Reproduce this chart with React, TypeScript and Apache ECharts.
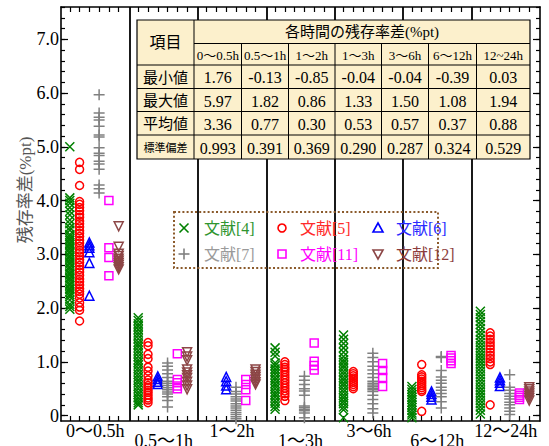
import React, { useEffect, useRef } from 'react';
import * as echarts from 'echarts';

const FONT = "'Liberation Serif', 'Times New Roman', 'Noto Sans CJK JP', serif";

const groupLabels = ['0～0.5h', '0.5～1h', '1～2h', '1～3h', '3～6h', '6～12h', '12～24h'];
const seriesNames = ['文献[4]', '文献[5]', '文献[6]', '文献[7]', '文献[11]', '文献[12]'];
const yTickLabels = [0, 1, 2, 3, 4, 5, 6, 7];

// values per time group (0~0.5h, 0.5~1h, 1~2h, 1~3h, 3~6h, 6~12h, 12~24h)
const ref4: number[][] = [
  [5.0, 4.05, 4.0, 3.95, 3.87, 3.8, 3.73, 3.64, 3.57, 3.5, 3.45, 3.37, 3.33, 3.29, 3.26, 3.21, 3.18, 3.13, 3.1, 3.05, 3.02, 2.97, 2.94, 2.9, 2.85, 2.82, 2.77, 2.74, 2.7, 2.65, 2.62, 2.57, 2.54, 2.5, 2.45, 2.42, 2.37, 2.34, 2.3, 2.25, 2.21, 2.15, 2.07, 2.03, 1.98],
  [1.82, 1.77, 1.71, 1.66, 1.6, 1.54, 1.49, 1.43, 1.37, 1.32, 1.27, 1.21, 1.16, 1.1, 1.04, 0.99, 0.94, 0.88, 0.83, 0.77, 0.72, 0.66, 0.61, 0.55, 0.5, 0.44, 0.39, 0.33, 0.28, 0.24, 0.2],
  [],
  [1.26, 1.18, 1.11, 0.98, 0.93, 0.87, 0.82, 0.77, 0.71, 0.66, 0.6, 0.55, 0.5, 0.44, 0.39, 0.34, 0.28, 0.23, 0.17, 0.12],
  [1.5, 1.42, 1.34, 1.26, 1.18, 1.1, 1.04, 0.99, 0.93, 0.88, 0.82, 0.77, 0.71, 0.66, 0.6, 0.55, 0.49, 0.44, 0.38, 0.33, 0.27, 0.22, 0.16, 0.11, -0.04],
  [0.54, 0.49, 0.44, 0.39, 0.34, 0.3, 0.25, 0.2, 0.15, 0.1, 0.05, 0.01, -0.04, -0.39],
  [1.94, 1.88, 1.82, 1.75, 1.69, 1.62, 1.55, 1.49, 1.42, 1.36, 1.3, 1.24, 1.18, 1.12, 1.06, 1.0, 0.94, 0.88, 0.82, 0.76, 0.7, 0.64, 0.58, 0.52, 0.46, 0.4, 0.34, 0.28, 0.22, 0.16, 0.1, 0.03],
];
const ref5: number[][] = [
  [4.71, 4.58, 4.28, 3.98, 3.93, 3.87, 3.81, 3.74, 3.69, 3.62, 3.57, 3.51, 3.44, 3.39, 3.33, 3.26, 3.21, 3.15, 3.08, 3.03, 2.97, 2.9, 2.85, 2.79, 2.72, 2.67, 2.61, 2.54, 2.49, 2.43, 2.36, 2.31, 2.26, 2.19, 2.1, 2.02, 1.96, 1.76],
  [1.36, 1.3, 1.14, 1.06, 0.9, 0.83, 0.74, 0.66, 0.61, 0.56, 0.52, 0.47, 0.43, 0.38, 0.33, 0.29, 0.24],
  [],
  [1.0, 0.95, 0.9, 0.86, 0.81, 0.76, 0.71, 0.66, 0.61, 0.56, 0.51, 0.46, 0.41, 0.36, 0.28],
  [0.82, 0.78, 0.74, 0.7, 0.66, 0.62, 0.58, 0.54, 0.5],
  [0.95, 0.76, 0.72, 0.68, 0.64, 0.6, 0.56, 0.52, 0.48, 0.45, 0.08],
  [1.54, 1.48, 1.42, 1.36, 1.3, 1.24, 1.18, 1.12, 1.06, 1.0, 0.95, 0.2],
];
const ref6: number[][] = [
  [3.22, 3.17, 3.12, 3.04, 2.84, 2.23],
  [0.73, 0.68, 0.63, 0.59],
  [0.72, 0.64, 0.56, 0.49],
  [],
  [],
  [0.45, 0.4, 0.35, 0.3],
  [0.71, 0.66, 0.61, 0.55],
];
const ref7: number[][] = [
  [5.97, 5.63, 5.55, 5.5, 5.38, 5.22, 5.18, 4.98, 4.88, 4.84, 4.73, 4.68, 4.58, 4.29, 4.22, 4.14],
  [0.98, 0.92, 0.85, 0.78, 0.71, 0.64, 0.6, 0.56, 0.52, 0.48, 0.44, 0.4, 0.35, 0.28, 0.16],
  [0.53, 0.45, 0.4, 0.35, 0.31, 0.27, 0.22, 0.18, 0.14, 0.1, 0.06, 0.02, -0.02, -0.06, -0.3, -0.85],
  [0.73, 0.66, 0.58, 0.5, 0.46, 0.38, 0.18, 0.15, 0.12, 0.09, 0.05, -0.04],
  [1.16, 1.08, 1.0, 0.92, 0.85, 0.78, 0.71, 0.64, 0.6, 0.57, 0.54, 0.51, 0.48, 0.45, 0.38, 0.3, 0.22, 0.13, 0.05],
  [1.1, 1.08, 0.84, 0.72, 0.66, 0.6, 0.53, 0.47, 0.41, 0.35, 0.26, 0.14],
  [0.76, 0.53, 0.47, 0.41, 0.36, 0.31, 0.25, 0.2, 0.14, 0.08, 0.02],
];
const ref11: number[][] = [
  [4.0, 3.12, 2.94, 2.6],
  [1.15, 0.67, 0.61, 0.55, 0.5],
  [0.67, 0.58, 0.48, 0.28],
  [1.35, 1.01, 0.93, 0.85],
  [0.97, 0.84, 0.71, 0.54],
  [1.12, 1.07, 1.02, 0.97],
  [0.42, 0.38, 0.34, 0.3],
];
const ref12: number[][] = [
  [3.52, 3.14, 3.01, 2.97, 2.92, 2.88, 2.84, 2.8, 2.76, 2.72],
  [1.18, 1.1, 1.03, 0.86, 0.8, 0.75, 0.7, 0.63, 0.56, 0.49],
  [0.86, 0.81, 0.76, 0.72, 0.67, 0.62, 0.58],
  [],
  [],
  [],
  [0.53, 0.49, 0.45, 0.41, 0.37, 0.33, 0.28],
];

// table contents
const tableHeader = '各時間の残存率差(%pt)';
const tableCols = ['0～0.5h', '0.5～1h', '1～2h', '1～3h', '3～6h', '6～12h', '12~24h'];
const tableRowNames = ['最小値', '最大値', '平均値', '標準偏差'];
const minVals = ['1.76', '-0.13', '-0.85', '-0.04', '-0.04', '-0.39', '0.03'];
const maxVals = ['5.97', '1.82', '0.86', '1.33', '1.50', '1.08', '1.94'];
const meanVals = ['3.36', '0.77', '0.30', '0.53', '0.57', '0.37', '0.88'];
const sdVals = ['0.993', '0.391', '0.369', '0.290', '0.287', '0.324', '0.529'];

const allRefs = [ref4, ref5, ref6, ref7, ref11, ref12];
const markerStyles = [
  { symbol: 'path://M0,0L10,10M10,0L0,10', size: 9, color: '#008000', text: '#2f952f' },
  { symbol: 'circle', size: 8, color: '#ff0000', text: '#ff2a2a' },
  { symbol: 'triangle', size: 9, color: '#0000ff', text: '#2a2aff' },
  { symbol: 'path://M5,0L5,10M0,5L10,5', size: 11, color: '#808080', text: '#9a9a9a' },
  { symbol: 'rect', size: 8, color: '#ff00ff', text: '#ff00ff' },
  { symbol: 'path://M0,0L10,0L5,8.66Z', size: 9, color: '#8c4646', text: '#8c3c3c' },
];

const slotPos = (g: number, k: number) => g + (k + 0.9) / 7;

function buildOption() {
  const tickPos: number[] = [];
  for (let g = 0; g < 7; g++) for (let k = 0; k < 6; k++) tickPos.push(slotPos(g, k));
  const labelPos = groupLabels.map((_, i) => i + 0.5);
  const minorTicks: number[] = [];
  for (let i = 0; i <= 38; i++) minorTicks.push(Math.round(i * 2) / 10);

  const series: any[] = allRefs.map((ref, k) => {
    const st = markerStyles[k];
    const data: number[][] = [];
    ref.forEach((vals, g) => vals.forEach((v) => data.push([slotPos(g, k), v])));
    const s: any = {
      name: seriesNames[k],
      type: 'scatter',
      xAxisIndex: 0,
      yAxisIndex: 0,
      symbol: st.symbol,
      symbolSize: st.size,
      itemStyle: { color: 'rgba(0,0,0,0)', borderColor: st.color, borderWidth: 1.5, opacity: 1 },
      data,
      silent: true,
      z: 3,
    };
    if (k === 0) {
      s.markLine = {
        silent: true,
        symbol: ['none', 'none'],
        label: { show: false },
        lineStyle: { color: '#000', width: 1.8, type: 'solid' },
        data: [1, 2, 3, 4, 5, 6].map((v) => ({ xAxis: v })),
      };
    }
    return s;
  });

  const axisLine = { show: true, onZero: false, lineStyle: { color: '#000', width: 1.6 } };

  const graphics: any[] = [];
  // y axis title
  graphics.push({
    type: 'text', x: 25, y: 190, rotation: Math.PI / 2, z: 50,
    style: { text: '残存率差(%pt)', fill: '#555', fontSize: 17, fontFamily: FONT, align: 'center', verticalAlign: 'middle' },
  });

  // table
  const tx = [137, 194, 241.5, 288.5, 335, 381.5, 428.5, 476.5, 530];
  const ty = [20, 43.5, 65, 88.5, 111.5, 135, 159];
  graphics.push({
    type: 'rect', z: 50,
    shape: { x: tx[0], y: ty[0], width: tx[8] - tx[0], height: ty[6] - ty[0] },
    style: { fill: '#fcf0cc', stroke: '#000', lineWidth: 1.2 },
  });
  const hline = (x1: number, x2: number, y: number) =>
    graphics.push({ type: 'line', z: 51, shape: { x1, y1: y, x2, y2: y }, style: { stroke: '#000', lineWidth: 1 } });
  const vline = (x: number, y1: number, y2: number) =>
    graphics.push({ type: 'line', z: 51, shape: { x1: x, y1, x2: x, y2 }, style: { stroke: '#000', lineWidth: 1 } });
  hline(tx[1], tx[8], ty[1]);
  for (let r = 2; r <= 5; r++) hline(tx[0], tx[8], ty[r]);
  vline(tx[1], ty[0], ty[6]);
  for (let c = 2; c <= 7; c++) vline(tx[c], ty[1], ty[6]);
  const cellText = (text: string, cx: number, cy: number, size: number) =>
    graphics.push({
      type: 'text', z: 52, x: cx, y: cy,
      style: { text, fill: '#000', fontSize: size, fontFamily: FONT, align: 'center', verticalAlign: 'middle' },
    });
  cellText('項目', (tx[0] + tx[1]) / 2, (ty[0] + ty[2]) / 2, 16);
  cellText(tableHeader, (tx[1] + tx[8]) / 2, (ty[0] + ty[1]) / 2, 15);
  tableCols.forEach((c, i) => cellText(c, (tx[i + 1] + tx[i + 2]) / 2, (ty[1] + ty[2]) / 2 + 1, 13));
  const rowsVals = [minVals, maxVals, meanVals, sdVals];
  tableRowNames.forEach((name, r) => {
    const cy = (ty[r + 2] + ty[r + 3]) / 2 + 1;
    cellText(name, (tx[0] + tx[1]) / 2, cy, r === 3 ? 11 : 15);
    rowsVals[r].forEach((v, i) => cellText(v, (tx[i + 1] + tx[i + 2]) / 2, cy, 16));
  });

  // legend box
  graphics.push({
    type: 'rect', z: 50,
    shape: { x: 174, y: 212, width: 264, height: 56 },
    style: { fill: 'none', stroke: '#8b5a2b', lineWidth: 2, lineDash: [2, 2.2] },
  });
  const iconX = [184, 282, 378];
  const textX = [204, 300, 396];
  const rowY = [228, 254];
  seriesNames.forEach((name, k) => {
    const col = k % 3;
    const row = Math.floor(k / 3);
    const cx = iconX[col];
    const cy = rowY[row];
    const st = markerStyles[k];
    const stroke = { stroke: st.color, lineWidth: 1.6, fill: 'none' };
    if (k === 0) {
      graphics.push({ type: 'line', z: 52, shape: { x1: cx - 4.5, y1: cy - 4.5, x2: cx + 4.5, y2: cy + 4.5 }, style: stroke });
      graphics.push({ type: 'line', z: 52, shape: { x1: cx + 4.5, y1: cy - 4.5, x2: cx - 4.5, y2: cy + 4.5 }, style: stroke });
    } else if (k === 1) {
      graphics.push({ type: 'circle', z: 52, shape: { cx, cy, r: 4 }, style: stroke });
    } else if (k === 2) {
      graphics.push({ type: 'polygon', z: 52, shape: { points: [[cx, cy - 5], [cx + 5, cy + 4], [cx - 5, cy + 4]] }, style: stroke });
    } else if (k === 3) {
      graphics.push({ type: 'line', z: 52, shape: { x1: cx, y1: cy - 5.5, x2: cx, y2: cy + 5.5 }, style: stroke });
      graphics.push({ type: 'line', z: 52, shape: { x1: cx - 5.5, y1: cy, x2: cx + 5.5, y2: cy }, style: stroke });
    } else if (k === 4) {
      graphics.push({ type: 'rect', z: 52, shape: { x: cx - 4, y: cy - 4, width: 8, height: 8 }, style: stroke });
    } else {
      graphics.push({ type: 'polygon', z: 52, shape: { points: [[cx - 5, cy - 4], [cx + 5, cy - 4], [cx, cy + 5]] }, style: stroke });
    }
    graphics.push({
      type: 'text', z: 52, x: textX[col], y: cy,
      style: { text: name, fill: st.text, fontSize: 16, fontFamily: FONT, align: 'left', verticalAlign: 'middle' },
    });
  });

  const gridBox = { left: 61, right: 9, top: 7, bottom: 25, containLabel: false, outerBoundsMode: 'none' };

  return {
    animation: false,
    backgroundColor: '#fff',
    grid: [{ ...gridBox }, { ...gridBox }],
    xAxis: [
      {
        gridIndex: 0, type: 'value', min: 0, max: 7, position: 'bottom',
        axisLine,
        axisTick: { show: true, inside: true, length: 5, customValues: tickPos, lineStyle: { color: '#000', width: 1.2 } },
        axisLabel: {
          show: true, customValues: labelPos, margin: 1, color: '#000',
          formatter: (v: number) => {
            const i = Math.round(v - 0.5);
            const t = groupLabels[i] ?? '';
            return i % 2 ? `{b|${t}}` : `{a|${t}}`;
          },
          rich: {
            a: { fontSize: 18, lineHeight: 18, fontFamily: FONT, color: '#000' },
            b: { fontSize: 18, lineHeight: 38, fontFamily: FONT, color: '#000' },
          },
        },
        splitLine: { show: false },
      },
      {
        gridIndex: 0, type: 'value', min: 0, max: 7, position: 'top',
        axisLine,
        axisTick: { show: true, inside: true, length: 5, customValues: tickPos, lineStyle: { color: '#000', width: 1.2 } },
        axisLabel: { show: false },
        splitLine: { show: false },
      },
      { gridIndex: 1, type: 'value', min: 0, max: 7, show: false },
    ],
    yAxis: [
      {
        gridIndex: 0, type: 'value', min: -0.1, max: 7.6, position: 'left',
        axisLine,
        axisTick: { show: true, inside: true, length: 7, customValues: yTickLabels, lineStyle: { color: '#000', width: 1.2 } },
        axisLabel: {
          show: true, customValues: yTickLabels, margin: 2, color: '#000', fontSize: 18, fontFamily: FONT,
          formatter: (v: number) => (v === 0 ? '0' : v.toFixed(1)),
        },
        splitLine: { show: false },
      },
      {
        gridIndex: 0, type: 'value', min: -0.1, max: 7.6, position: 'right',
        axisLine,
        axisTick: { show: true, inside: true, length: 7, customValues: yTickLabels, lineStyle: { color: '#000', width: 1.2 } },
        axisLabel: { show: false },
        splitLine: { show: false },
      },
      {
        gridIndex: 1, type: 'value', min: -0.1, max: 7.6, position: 'left',
        axisLine: { show: false, onZero: false },
        axisTick: { show: true, inside: true, length: 4, customValues: minorTicks, lineStyle: { color: '#000', width: 1.2 } },
        axisLabel: { show: false },
        splitLine: { show: false },
      },
      {
        gridIndex: 1, type: 'value', min: -0.1, max: 7.6, position: 'right',
        axisLine: { show: false, onZero: false },
        axisTick: { show: true, inside: true, length: 4, customValues: minorTicks, lineStyle: { color: '#000', width: 1.2 } },
        axisLabel: { show: false },
        splitLine: { show: false },
      },
    ],
    series,
    graphic: { elements: graphics },
  };
}

export default function App() {
  const ref = useRef<HTMLDivElement>(null);
  useEffect(() => {
    if (!ref.current) return;
    const chart = echarts.init(ref.current, null, { renderer: 'svg' });
    chart.setOption(buildOption() as any);
    return () => chart.dispose();
  }, []);
  return <div ref={ref} style={{ position: 'fixed', left: 0, top: 0, width: 549, height: 446 }} />;
}
